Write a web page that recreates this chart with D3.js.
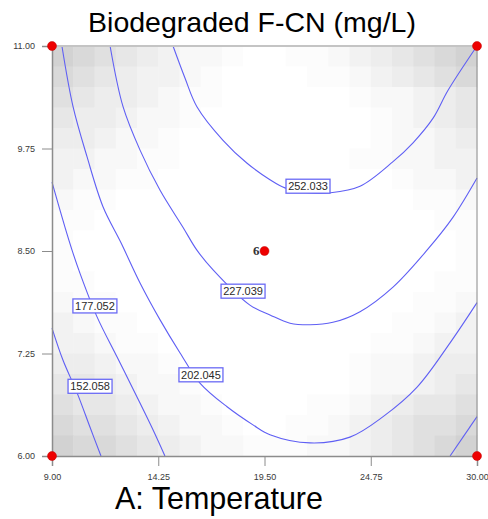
<!DOCTYPE html>
<html>
<head>
<meta charset="utf-8">
<script src="https://cdn.jsdelivr.net/npm/d3@7"></script>
<style>
  body { margin: 0; background: #fff; }
  svg text { font-family: "Liberation Sans", Arial, sans-serif; }
</style>
</head>
<body>
<svg class="contour" width="488" height="519"></svg>
<script>
// ticks
var xTicks = [9.00, 14.25, 19.50, 24.75, 30.00];
var yTicks = [6.00, 7.25, 8.50, 9.75, 11.00];

// contour traces, [A, B]
var c152 = [[9.00, 7.56], [9.54, 7.17], [10.24, 6.77], [10.88, 6.35], [11.42, 6.00]];
var c177a = [[9.00, 9.34], [9.64, 8.79], [9.99, 8.51], [10.38, 8.23], [11.22, 7.70], [12.21, 7.21], [13.20, 6.72], [13.99, 6.32], [14.58, 6.00]];
var c177b = [[28.67, 6.00], [30.00, 6.48]];
var c202 = [[9.49, 11.00], [10.04, 10.26], [10.73, 9.65], [11.52, 9.04], [12.41, 8.60], [13.35, 8.11], [14.34, 7.66], [15.32, 7.26], [16.31, 6.89], [17.65, 6.60], [18.93, 6.38], [19.77, 6.26], [21.75, 6.16], [23.72, 6.23], [25.36, 6.48], [27.04, 6.84], [28.67, 7.38], [30.00, 7.87]];
var c227 = [[11.87, 11.00], [12.51, 10.26], [13.35, 9.73], [14.34, 9.24], [15.47, 8.79], [16.16, 8.51], [16.96, 8.27], [18.78, 7.84], [19.77, 7.72], [20.76, 7.62], [21.75, 7.60], [22.88, 7.63], [24.22, 7.76], [25.85, 8.06], [27.53, 8.51], [28.81, 8.91], [30.00, 9.39]];
var c252 = [[14.98, 11.00], [15.57, 10.61], [16.16, 10.26], [17.45, 9.85], [18.64, 9.57], [19.77, 9.37], [20.51, 9.27], [21.65, 9.21], [22.74, 9.21], [24.22, 9.29], [25.85, 9.59], [26.84, 9.82], [27.83, 10.12], [28.57, 10.46], [30.00, 11.00]];

// contour labels
var labelText = ['152.058', '177.052', '202.045', '227.039', '252.033'];
var labelA = [10.88, 11.12, 16.36, 18.44, 21.65];
var labelB = [6.85, 7.83, 6.99, 8.01, 9.29];

// design points
var designA = [9, 30, 9, 30, 19.5];
var designB = [11, 11, 6, 6, 8.5];
var designN = [1, 1, 1, 1, 6];

// background shading (standard error), one digit per cell, top row first
var shadeRows = [
  '87654322100112345678',
  '76543321000011234567',
  '65443211000000122345',
  '54432210000000012345',
  '44322100000000012234',
  '33221100000000112233',
  '32211000000000001223',
  '21100000000000000112',
  '11000000000000000011',
  '10000000000000000001',
  '10000000000000000001',
  '11000000000000000011',
  '21100000000000000112',
  '32110000000000001123',
  '33211000000000011233',
  '44322100000000122344',
  '55432210000000122345',
  '65543221000011234556',
  '76654322100112345667',
  '87765432211122345678'
];

var svg = d3.select('svg.contour');

var x = d3.scaleLinear().domain([9, 30]).range([52, 477]);
var y = d3.scaleLinear().domain([6, 11]).range([456, 46]);

var nCols = shadeRows[0].length, nRows = shadeRows.length;
var cx = d3.scaleLinear().domain([0, nCols]).range(x.range());
var cy = d3.scaleLinear().domain([0, nRows]).range(y.range().slice().reverse());
var shade = d3.scalePow().exponent(1.3).domain([0, 8]).range(['#ffffff', '#d2d2d2']);

var cells = [];
shadeRows.forEach(function (row, j) {
    row.split('').forEach(function (ch, i) {
        cells.push({i: i, j: j, v: +ch});
    });
});

svg.append('g').selectAll('rect')
    .data(cells)
    .enter()
    .append('rect')
    .attr('x', function (d) { return cx(d.i); })
    .attr('y', function (d) { return cy(d.j); })
    .attr('width', cx(1) - cx(0) + 0.5)
    .attr('height', cy(1) - cy(0) + 0.5)
    .attr('fill', function (d) { return shade(d.v); });

// contour lines
var line = d3.line()
    .x(function (d) { return x(d[0]); })
    .y(function (d) { return y(d[1]); })
    .curve(d3.curveCatmullRom.alpha(0.5));

svg.append('g')
    .selectAll('path')
    .data([c152, c177a, c177b, c202, c227, c252])
    .enter()
    .append('path')
    .attr('d', line)
    .attr('fill', 'none')
    .attr('stroke', '#5f5ff4')
    .attr('stroke-width', 1.1);

// frame
svg.append('line').attr('x1', x(9)).attr('x2', x(30)).attr('y1', y(11)).attr('y2', y(11))
    .attr('stroke', '#c4c4c4').attr('stroke-width', 2);
svg.append('line').attr('x1', x(30)).attr('x2', x(30)).attr('y1', y(11)).attr('y2', y(6))
    .attr('stroke', '#8a8a8a').attr('stroke-width', 1);

// axes
var xAxis = d3.axisBottom(x).tickValues(xTicks).tickFormat(d3.format('.2f')).tickSize(10).tickPadding(8);
var yAxis = d3.axisLeft(y).tickValues(yTicks).tickFormat(d3.format('.2f')).tickSize(10).tickPadding(7);

var gx = svg.append('g').attr('transform', 'translate(0,' + y(6) + ')').call(xAxis);
var gy = svg.append('g').attr('transform', 'translate(' + x(9) + ',0)').call(yAxis);

[gx, gy].forEach(function (g) {
    g.select('.domain').attr('stroke', '#8c8c8c').attr('stroke-width', 1.5);
    g.selectAll('.tick line').attr('stroke', '#8c8c8c').attr('stroke-width', 1);
    g.selectAll('.tick text')
        .attr('fill', '#3a3a3a')
        .style('font-size', '9px')
        .style('font-family', '"Liberation Sans", Arial, sans-serif');
});

// labels on contours
var lab = svg.append('g').selectAll('g')
    .data(labelText)
    .enter()
    .append('g')
    .attr('transform', function (d, i) {
        return 'translate(' + x(labelA[i]) + ',' + y(labelB[i]) + ')';
    });

lab.append('rect')
    .attr('x', -22).attr('y', -7)
    .attr('width', 44).attr('height', 14)
    .attr('fill', '#fff')
    .attr('stroke', '#6a6af5')
    .attr('stroke-width', 1.3);

lab.append('text')
    .attr('text-anchor', 'middle')
    .attr('dy', '0.36em')
    .attr('fill', '#2a2a2a')
    .style('font-size', '11px')
    .text(function (d) { return d; });

// design points
svg.append('g').selectAll('circle')
    .data(designA)
    .enter()
    .append('circle')
    .attr('cx', function (d) { return x(d); })
    .attr('cy', function (d, i) { return y(designB[i]); })
    .attr('r', 4.5)
    .attr('fill', '#ee0000')
    .attr('stroke', '#c00000')
    .attr('stroke-width', 0.5);

svg.append('g').selectAll('text')
    .data(designN.filter(function (n) { return n > 1; }))
    .enter()
    .append('text')
    .attr('x', function (d) { return x(designA[designN.indexOf(d)]) - 5; })
    .attr('y', function (d) { return y(designB[designN.indexOf(d)]) + 4; })
    .attr('text-anchor', 'end')
    .style('font-family', '"Liberation Serif", "Times New Roman", serif')
    .style('font-weight', 'bold')
    .style('font-size', '13px')
    .attr('fill', '#333')
    .text(function (d) { return d; });

// titles
svg.append('text')
    .attr('x', 252).attr('y', 32)
    .attr('text-anchor', 'middle')
    .style('font-size', '28.5px')
    .attr('fill', '#000')
    .text('Biodegraded F-CN (mg/L)');

svg.append('text')
    .attr('x', 115).attr('y', 509)
    .style('font-size', '30.5px')
    .attr('fill', '#000')
    .text('A: Temperature');
</script>
</body>
</html>
